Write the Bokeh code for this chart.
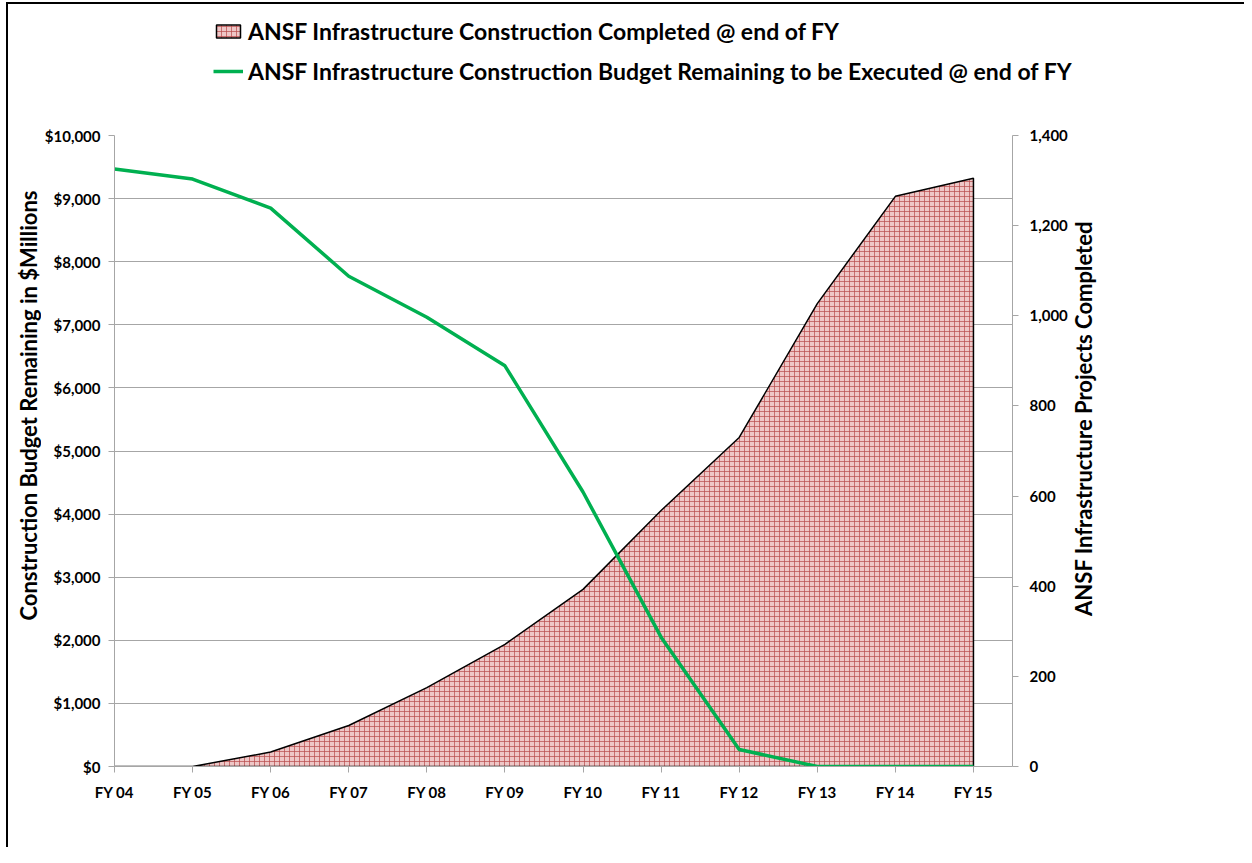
import math
from bokeh.plotting import figure
from bokeh.layouts import row, column
from bokeh.models import (Range1d, LinearAxis, NumeralTickFormatter, FixedTicker,
                          Legend, LegendItem, Label)
from bokeh.embed import file_html
from bokeh.resources import INLINE

categories = ["FY 04", "FY 05", "FY 06", "FY 07", "FY 08", "FY 09",
              "FY 10", "FY 11", "FY 12", "FY 13", "FY 14", "FY 15"]
budget_remaining = [9470, 9310, 8850, 7770, 7120, 6350, 4350, 2050, 270, 0, 0, 0]
projects_completed = [0, 0, 32, 91, 175, 271, 393, 568, 730, 1027, 1265, 1305]
left_max = 10000
right_max = 1400
left_ticks = list(range(0, left_max + 1, 1000))
right_ticks = list(range(0, right_max + 1, 200))

label_area = "ANSF Infrastructure Construction Completed @ end of FY"
label_line = "ANSF Infrastructure Construction Budget Remaining to be Executed @ end of FY"
title_left = "Construction Budget Remaining in $Millions"
title_right = "ANSF Infrastructure Projects Completed"

FONT = "Lato"
GRAY = "#a6a6a6"
AREA_STYLE = dict(fill_color="#eec6c6", line_color="black", line_width=1.5,
                  hatch_pattern="cross", hatch_color="#b84a4a", hatch_alpha=0.7,
                  hatch_scale=5, hatch_weight=1)
LINE_STYLE = dict(line_color="#00b050", line_width=3.5)

LEG_H = 119
H = 724
x = list(range(len(categories)))
area_x = x + [x[-1], x[0]]
area_y = projects_completed + [0, 0]

# ---------------- main chart ----------------
p = figure(width=1029, height=H, output_backend="svg", toolbar_location=None,
           x_range=Range1d(0, len(categories) - 0.5),
           y_range=Range1d(0, left_max),
           min_border_left=70, min_border_right=57, min_border_top=12,
           min_border_bottom=81)
p.extra_y_ranges = {"proj": Range1d(0, right_max)}
p.outline_line_color = None
p.xgrid.visible = False
p.ygrid.ticker = FixedTicker(ticks=left_ticks)
p.ygrid.grid_line_color = GRAY
p.ygrid.grid_line_width = 1

p.patch(area_x, area_y, y_range_name="proj", **AREA_STYLE)
p.line(x, budget_remaining, **LINE_STYLE)


def style_axis(ax):
    ax.axis_line_color = GRAY
    ax.major_tick_line_color = GRAY
    ax.major_tick_out = 6
    ax.major_tick_in = 0
    ax.minor_tick_line_color = None
    ax.major_label_text_font = FONT
    ax.major_label_text_font_style = "bold"
    ax.major_label_text_font_size = "15px"
    ax.major_label_text_color = "black"


ly = p.yaxis[0]
ly.ticker = FixedTicker(ticks=left_ticks)
ly.formatter = NumeralTickFormatter(format="$0,0")
style_axis(ly)
ly.major_label_standoff = 8

bx = p.xaxis[0]
bx.ticker = FixedTicker(ticks=x)
bx.major_label_overrides = {i: c for i, c in zip(x, categories)}
style_axis(bx)
bx.major_label_standoff = 10

ry = LinearAxis(y_range_name="proj", ticker=FixedTicker(ticks=right_ticks),
                formatter=NumeralTickFormatter(format="0,0"))
style_axis(ry)
ry.major_label_standoff = 11
p.add_layout(ry, "right")


# ---------------- axis titles ----------------
def title_figure(width, text, lx, ly_):
    f = figure(width=width, height=H, output_backend="svg", toolbar_location=None,
               x_axis_location=None, y_axis_location=None,
               x_range=Range1d(0, 1), y_range=Range1d(0, 1),
               min_border_left=0, min_border_right=0, min_border_top=0,
               min_border_bottom=0)
    f.outline_line_color = None
    f.grid.visible = False
    f.add_layout(Label(x=lx, y=ly_, x_units="screen", y_units="screen",
                       text=text, angle=math.pi / 2, text_align="center",
                       text_baseline="middle", text_font=FONT,
                       text_font_style="bold", text_font_size="22px",
                       text_color="black"))
    return f


p0 = title_figure(33, title_left, 20, 361)
p2 = title_figure(174, title_right, 13, 348)

# ---------------- legend strip ----------------
lf = figure(width=1236, height=LEG_H, output_backend="svg", toolbar_location=None,
            x_axis_location=None, y_axis_location=None,
            x_range=Range1d(0, 1), y_range=Range1d(0, 1),
            min_border_left=0, min_border_right=0, min_border_top=0,
            min_border_bottom=0)
lf.frame_align = False
lf.outline_line_color = None
lf.grid.visible = False
# hidden key renderers (same data and styles) that feed the legend glyphs
area_key = lf.patch(area_x, area_y, visible=False, **AREA_STYLE)
line_key = lf.line(x, budget_remaining, visible=False, **LINE_STYLE)
legend = Legend(items=[LegendItem(label=label_area, renderers=[area_key]),
                       LegendItem(label=label_line, renderers=[line_key])],
                location=(205, 38), orientation="vertical",
                border_line_color=None, background_fill_alpha=0,
                padding=0, margin=0, spacing=12, glyph_width=30, glyph_height=16,
                label_height=20, label_standoff=5,
                label_text_font=FONT, label_text_font_style="bold",
                label_text_font_size="23px", label_text_color="black")
lf.add_layout(legend)

layout = column(lf, row(p0, p, p2))
layout.styles = {"border-left": "2px solid black", "border-top": "2px solid black",
                 "margin-left": "6px", "margin-top": "2px"}

open("out.html", "w").write(file_html(layout, INLINE))
